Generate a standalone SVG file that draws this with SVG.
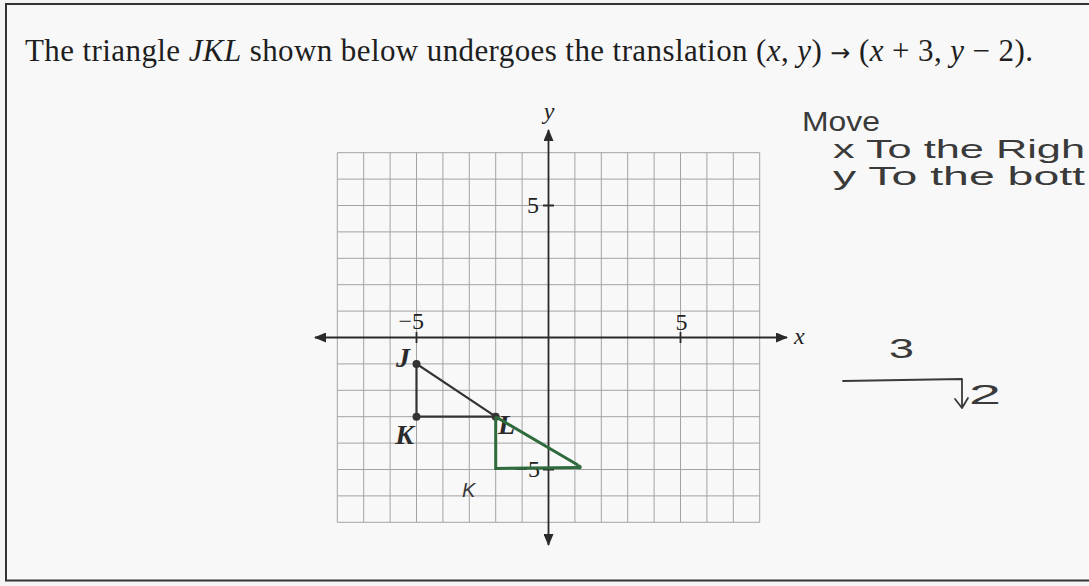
<svg xmlns="http://www.w3.org/2000/svg" width="1089" height="586" viewBox="0 0 1089 586">
  <defs>
    <style>
      .title { font-family: "Liberation Serif", "Times New Roman", serif; font-size: 31px; fill: #1e1e1e; }
      .num { font-family: "Liberation Serif", "Times New Roman", serif; font-size: 24px; fill: #222; }
      .axlab { font-family: "Liberation Serif", "Times New Roman", serif; font-size: 24px; font-style: italic; fill: #222; }
      .vlab { font-family: "Liberation Serif", "Times New Roman", serif; font-size: 28px; font-style: italic; font-weight: bold; fill: #2a2a2a; }
      .hand { font-family: "Liberation Sans", "DejaVu Sans", sans-serif; fill: #3a3a3a; }
      .grid { stroke: #a3a3a3; stroke-width: 1; fill: none; }
      .axis { stroke: #2a2a2a; stroke-width: 1.8; fill: none; }
      .tri { stroke: #333; stroke-width: 2.2; fill: none; }
      .green { stroke: #2f6a3c; stroke-width: 3; fill: none; stroke-linecap: round; }
      .ink { stroke: #3a3a3a; stroke-width: 1.8; fill: none; stroke-linecap: round; stroke-linejoin: round; }
    </style>
    <marker id="ah" viewBox="0 0 12 10" refX="11" refY="5" markerWidth="12" markerHeight="10" markerUnits="userSpaceOnUse" orient="auto">
      <path d="M0,0 L12,5 L0,10 Z" fill="#2a2a2a"/>
    </marker>
  </defs>

  <rect x="0" y="0" width="1089" height="586" fill="#f4f4f4"/>
  <rect x="6" y="4" width="1090" height="576.5" fill="#f8f8f8" stroke="#333" stroke-width="2"/>

  <g id="title">
    <text class="title" x="25" y="61" textLength="1008" lengthAdjust="spacing">The triangle <tspan font-style="italic">JKL</tspan> shown below undergoes the translation  (<tspan font-style="italic">x</tspan>, <tspan font-style="italic">y</tspan>) <tspan font-family="DejaVu Sans, sans-serif" font-size="24">→</tspan> (<tspan font-style="italic">x</tspan> + 3, <tspan font-style="italic">y</tspan> − 2).</text>
  </g>

  <g id="grid">
    <path class="grid" d="M337.3,152.7V522.3 M363.7,152.7V522.3 M390.1,152.7V522.3 M416.5,152.7V522.3 M442.9,152.7V522.3 M469.3,152.7V522.3 M495.7,152.7V522.3 M522.1,152.7V522.3 M574.9,152.7V522.3 M601.3,152.7V522.3 M627.7,152.7V522.3 M654.1,152.7V522.3 M680.5,152.7V522.3 M706.9,152.7V522.3 M733.3,152.7V522.3 M759.7,152.7V522.3"/>
    <path class="grid" d="M337.3,152.7H759.7 M337.3,179.1H759.7 M337.3,205.5H759.7 M337.3,231.9H759.7 M337.3,258.3H759.7 M337.3,284.7H759.7 M337.3,311.1H759.7 M337.3,363.9H759.7 M337.3,390.3H759.7 M337.3,416.7H759.7 M337.3,443.1H759.7 M337.3,469.5H759.7 M337.3,495.9H759.7 M337.3,522.3H759.7"/>
  </g>

  <g id="axes">
    <line class="axis" x1="548.5" y1="337.5" x2="787" y2="337.5" marker-end="url(#ah)"/>
    <line class="axis" x1="548.5" y1="337.5" x2="315" y2="337.5" marker-end="url(#ah)"/>
    <line class="axis" x1="548.5" y1="337.5" x2="548.5" y2="130" marker-end="url(#ah)"/>
    <line class="axis" x1="548.5" y1="337.5" x2="548.5" y2="545" marker-end="url(#ah)"/>
    <path class="axis" d="M416.5,332V343 M680.5,332V343 M543,205.5H554 M543,469.5H554"/>
    <text class="axlab" x="794" y="344">x</text>
    <text class="axlab" x="549" y="119" text-anchor="middle">y</text>
    <text class="num" x="424" y="329" text-anchor="end">−5</text>
    <text class="num" x="681.5" y="330" text-anchor="middle">5</text>
    <text class="num" x="539" y="213" text-anchor="end">5</text>
    <text class="num" x="540" y="477" text-anchor="end">−5</text>
  </g>

  <g id="triangle-JKL">
    <path class="tri" d="M416.5,363.9 L416.5,416.7 L495.7,416.7 Z"/>
    <circle cx="416.5" cy="363.9" r="4" fill="#333"/>
    <circle cx="416.5" cy="416.7" r="4" fill="#333"/>
    <circle cx="495.7" cy="416.7" r="4" fill="#333"/>
  </g>
  <g id="label-J"><text class="vlab" x="410" y="367" text-anchor="end">J</text></g>
  <g id="label-K"><text class="vlab" x="414" y="444" text-anchor="end">K</text></g>
  <g id="label-L"><text class="vlab" x="498" y="434">L</text></g>

  <g id="image-triangle">
    <path class="green" d="M495.7,418 L495.7,468.5 L580,467.5"/>
    <path class="green" d="M497,417.5 L577,464.5"/>
    <circle cx="579" cy="467" r="2.5" fill="#2f6a3c"/>
    <text class="hand" x="462" y="497" font-size="20" fill="#8a8a8a" font-style="italic">K</text>
  </g>

  <g id="notes">
    <text class="hand" x="802" y="131" font-size="27" textLength="78" lengthAdjust="spacingAndGlyphs">Move</text>
    <text class="hand" x="833" y="158" font-size="26" textLength="252" lengthAdjust="spacingAndGlyphs">x To the Righ</text>
    <text class="hand" x="833" y="185" font-size="26" textLength="252" lengthAdjust="spacingAndGlyphs">y To the bott</text>
    <text class="hand" x="889" y="358" font-size="28" textLength="25" lengthAdjust="spacingAndGlyphs">3</text>
    <path class="ink" d="M843,381 L962,379 L962,408 M955,399 L962,408 L968,398"/>
    <text class="hand" x="969" y="404" font-size="28" textLength="32" lengthAdjust="spacingAndGlyphs">2</text>
  </g>
</svg>
